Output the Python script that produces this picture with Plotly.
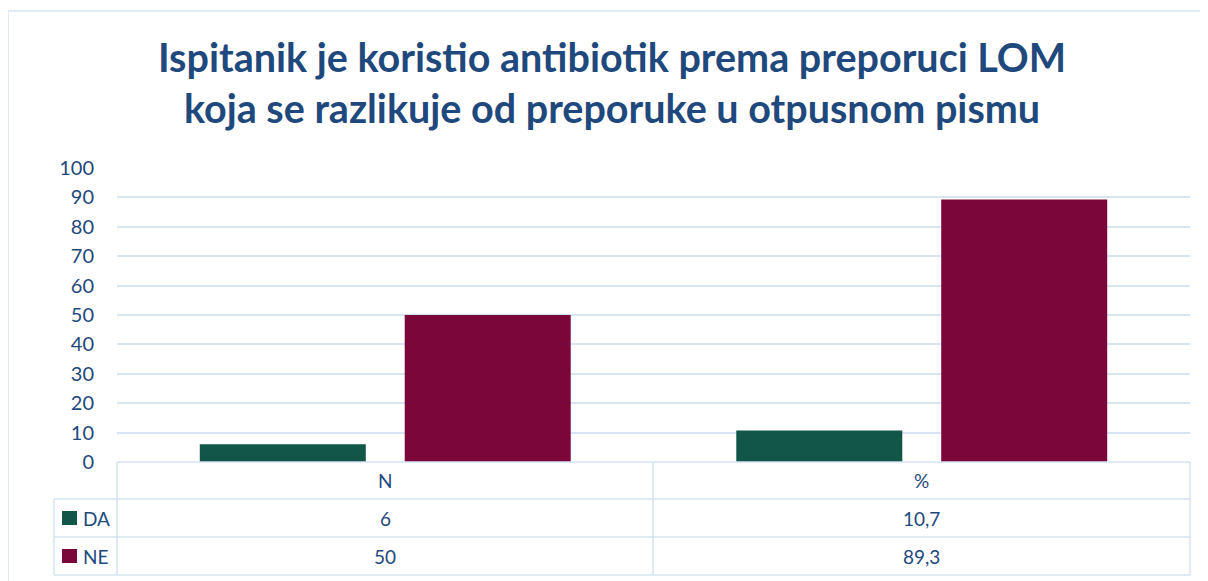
import plotly.graph_objects as go

# data
categories = ['N', '%']
series_names = ['DA', 'NE']
da_values = [6, 10.7]
ne_values = [50, 89.3]
y_ticks = [0, 10, 20, 30, 40, 50, 60, 70, 80, 90, 100]

title_text = ('Ispitanik je koristio antibiotik prema preporuci LOM<br>'
              'koja se razlikuje od preporuke u otpusnom pismu')

TEXT = '#1F497D'
GRID = '#D9E4F2'
BORDER = '#D6E3F3'
colors = {'DA': '#115647', 'NE': '#7B0639'}

# page offset of the plot div (browser body margin)
OFF = 8
PAGE_W, PAGE_H = 1208, 581

# plot area in page pixels (left, right, top, bottom)
L, R, T, B = 117, 1190, 168, 462
W, H = R - L, B - T


def px(x):
    return (x - L) / W


def py(y):
    return (B - y) / H


fig = go.Figure()
fig.add_trace(go.Bar(x=categories, y=da_values, name='DA',
                     marker=dict(color=colors['DA'], line_width=0)))
fig.add_trace(go.Bar(x=categories, y=ne_values, name='NE',
                     marker=dict(color=colors['NE'], line_width=0)))

fig.update_layout(
    width=PAGE_W - OFF, height=PAGE_H - OFF,
    margin=dict(l=L - OFF, r=PAGE_W - R, t=T - OFF, b=PAGE_H - B, pad=0),
    paper_bgcolor='white', plot_bgcolor='white',
    showlegend=False,
    barmode='group', bargap=0.236, bargroupgap=0.19,
    font=dict(family='Lato', color=TEXT),
    title=dict(text=title_text, x=(612 - OFF) / (PAGE_W - OFF),
               xanchor='center', y=1 - 64 / (PAGE_H - OFF),
               yanchor='middle', yref='container',
               font=dict(family='Lato', size=39.5, color=TEXT, weight='bold')),
)
fig.update_xaxes(showticklabels=False, showgrid=False, zeroline=False,
                 showline=False)
fig.update_yaxes(range=[0, 100], tickvals=y_ticks, showgrid=True,
                 gridcolor=GRID, gridwidth=1.5, zeroline=False,
                 showline=False, ticklabelstandoff=22,
                 tickfont=dict(size=20, color=TEXT))

# outer chart border
fig.add_shape(type='rect', xref='paper', yref='paper',
              x0=px(8), x1=px(1230), y0=py(11), y1=py(600),
              line=dict(color=BORDER, width=1.5), layer='below')

# data table grid
rows = [462, 499, 537, 575]
cols = [54, 117, 653, 1190]
line = dict(color=BORDER, width=1.5)
fig.add_shape(type='line', xref='paper', yref='paper',
              x0=px(117), x1=px(1190), y0=py(462), y1=py(462), line=line)
for y in rows[1:]:
    fig.add_shape(type='line', xref='paper', yref='paper',
                  x0=px(54), x1=px(1190), y0=py(y), y1=py(y), line=line)
fig.add_shape(type='line', xref='paper', yref='paper',
              x0=px(54), x1=px(54), y0=py(499), y1=py(575), line=line)
for x in cols[1:]:
    fig.add_shape(type='line', xref='paper', yref='paper',
                  x0=px(x), x1=px(x), y0=py(462), y1=py(575), line=line)

# header row
for c in categories:
    fig.add_annotation(x=c, xref='x', y=py(480.5), yref='paper', text=c,
                       xanchor='center', yanchor='middle', showarrow=False,
                       font=dict(size=19, color=TEXT))

# series rows
for i, (name, vals) in enumerate(zip(series_names, [da_values, ne_values])):
    yc = (rows[i + 1] + rows[i + 2]) / 2
    fig.add_shape(type='rect', xref='paper', yref='paper',
                  x0=px(62), x1=px(77), y0=py(yc - 7), y1=py(yc + 7),
                  fillcolor=colors[name], line_width=0)
    fig.add_annotation(x=px(81), xref='paper', y=py(yc), yref='paper',
                       text=name, xanchor='left', yanchor='middle',
                       showarrow=False, font=dict(size=19, color=TEXT))
    for c, v in zip(categories, vals):
        fig.add_annotation(x=c, xref='x', y=py(yc), yref='paper',
                           text=str(v).replace('.', ','), xanchor='center',
                           yanchor='middle', showarrow=False,
                           font=dict(size=19, color=TEXT))

fig.write_html('out.html')
